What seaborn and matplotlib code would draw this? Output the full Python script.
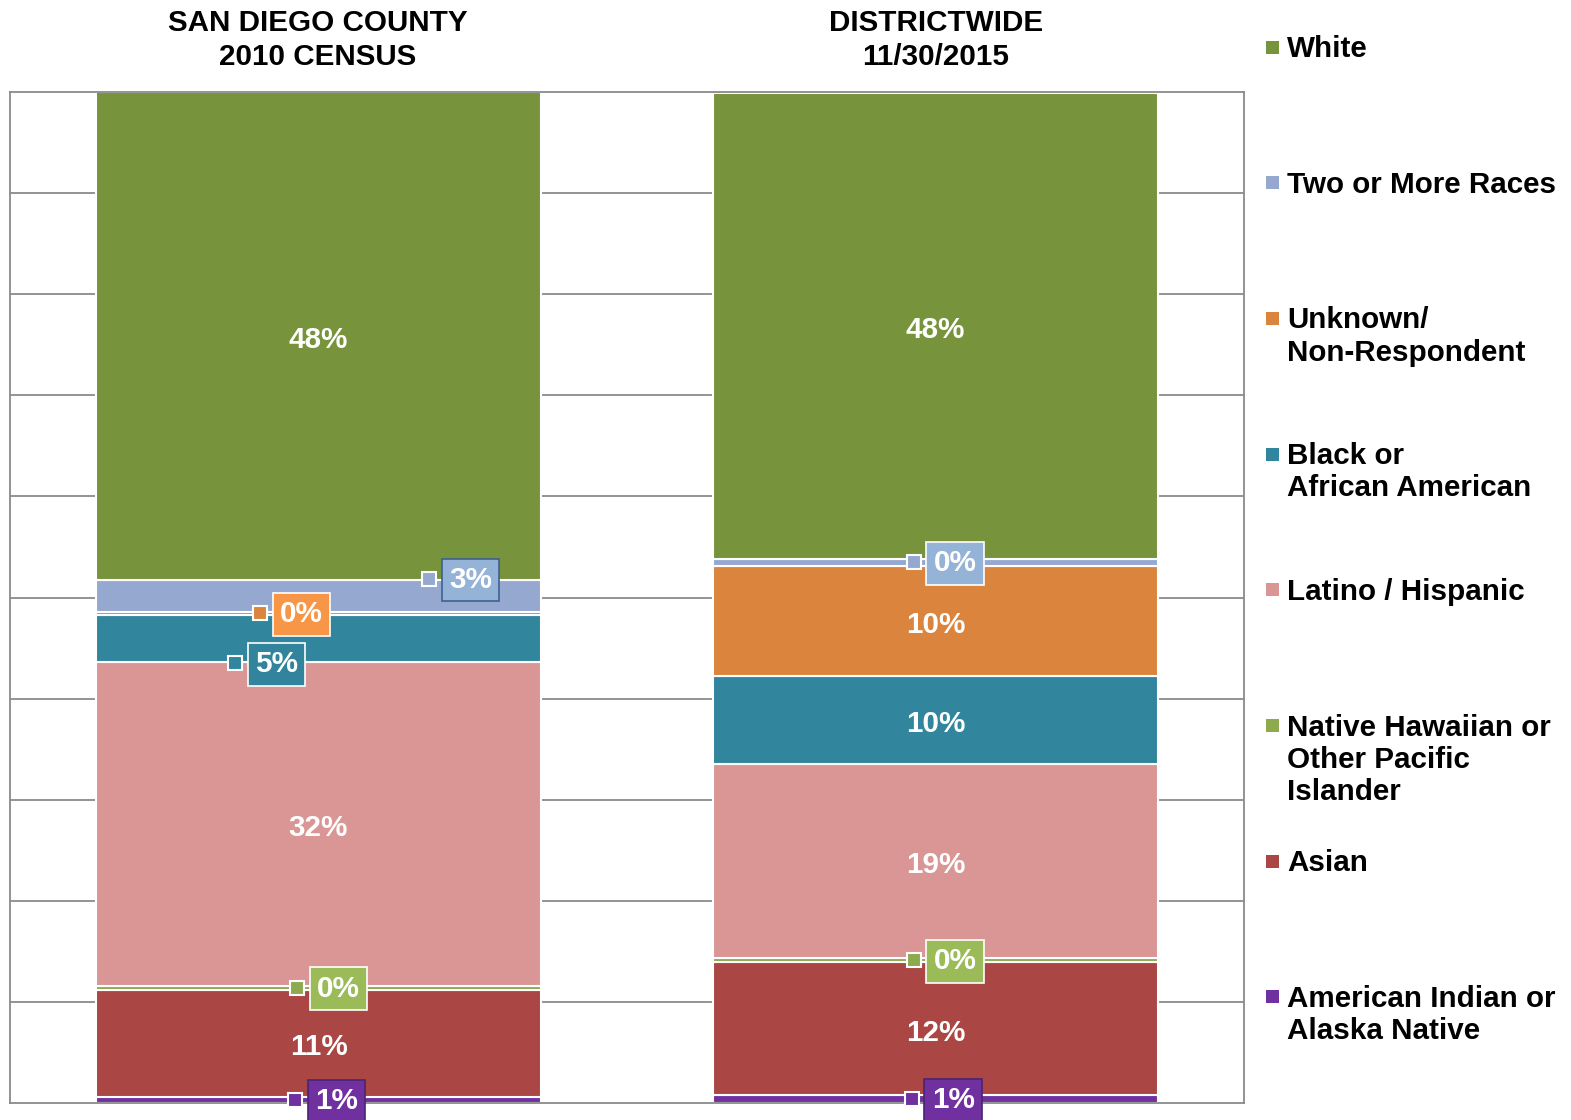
import matplotlib
matplotlib.use('Agg')
import matplotlib.pyplot as plt
import matplotlib.transforms as mtransforms
from matplotlib.patches import Rectangle
import seaborn as sns
import numpy as np

# Data (bottom -> top of each stacked bar)
groups = ['SAN DIEGO COUNTY\n2010 CENSUS', 'DISTRICTWIDE\n11/30/2015']
group_keys = ['county', 'district']
series = ['American Indian or\nAlaska Native', 'Asian',
          'Native Hawaiian or\nOther Pacific\nIslander', 'Latino / Hispanic',
          'Black or\nAfrican American', 'Unknown/\nNon-Respondent',
          'Two or More Races', 'White']
county_pct = [0.6, 10.6, 0.4, 32.0, 4.7, 0.3, 3.1, 48.3]
district_pct = [0.8, 13.1, 0.45, 19.2, 8.7, 10.9, 0.7, 46.1]
county_labels = ['1%', '11%', '0%', '32%', '5%', '0%', '3%', '48%']
district_labels = ['1%', '12%', '0%', '19%', '10%', '10%', '0%', '48%']

colors = ['#7030A0', '#AA4644', '#8DAA4F', '#D99694', '#31859C', '#DB843D', '#95A9D0', '#77933C']
box_colors = ['#7030A0', '#AA4644', '#9BBB59', '#D99694', '#31849B', '#F79646', '#95B3D7', '#77933C']

# small segments get a callout box: (group, series, dx px, dy px down, box edge)
callouts = [
    (0, 6, 110, -17, '#3F5F93'),
    (0, 5, -59, 0, 'white'),
    (0, 4, -84, 25, 'white'),
    (0, 2, -22, 0, 'white'),
    (0, 0, -24, 0, '#4A2570'),
    (1, 6, -22, 0, 'white'),
    (1, 2, -22, 0, 'white'),
    (1, 0, -24, 0, '#4A2570'),
]

sns.set_style('white')
plt.rcParams['font.family'] = ['Liberation Sans', 'DejaVu Sans']
plt.rcParams['font.weight'] = 'bold'
FS = 21.3

W, H = 1571, 1120
fig = plt.figure(figsize=(W / 100, H / 100), dpi=100)
ax = fig.add_axes([10 / W, 17 / H, 1234 / W, 1011 / H])

values = np.array([county_pct, district_pct])  # shape (2, n_series)
labels = [county_labels, district_labels]
bottom = np.zeros(2)
bottoms = []
for i, name in enumerate(series):
    sns.barplot(x=group_keys, y=values[:, i], bottom=bottom.copy(), color=colors[i],
                saturation=1, width=0.72, edgecolor='white', linewidth=1.5,
                errorbar=None, ax=ax, zorder=2)
    bottoms.append(bottom.copy())
    bottom += values[:, i]

ax.set_xlim(-0.5, 1.5)
ax.set_ylim(0, 100)
ax.set_yticks(np.arange(10, 100, 10))
ax.set_xticks([])
ax.set_yticklabels([])
ax.tick_params(length=0)
ax.set_xlabel('')
ax.set_ylabel('')
ax.grid(axis='y', color='#8A8A8A', linewidth=1.3)
ax.set_axisbelow(True)
for s in ax.spines.values():
    s.set_color('#8A8A8A')
    s.set_linewidth(1.3)
    s.set_visible(True)

# labels inside big segments
callout_keys = {(g, i) for g, i, *_ in callouts}
inner_tr = mtransforms.offset_copy(ax.transData, fig=fig, x=0, y=-4, units='dots')
for g in range(2):
    for i in range(len(series)):
        if (g, i) in callout_keys:
            continue
        yc = bottoms[i][g] + values[g, i] / 2
        ax.text(g, yc, labels[g][i], ha='center', va='center', color='white',
                fontsize=FS, fontweight='bold', transform=inner_tr, zorder=5)

# callout markers + boxes
pad = 0.25
pad_px = pad * FS * 100 / 72
for g, i, dx, dy, edge in callouts:
    yc = bottoms[i][g] + values[g, i] / 2
    mtr = mtransforms.offset_copy(ax.transData, fig=fig, x=dx, y=-dy, units='dots')
    ax.plot([g], [yc], marker='s', markersize=10, markerfacecolor=colors[i],
            markeredgecolor='white', markeredgewidth=1.5, transform=mtr,
            zorder=6, clip_on=False)
    ttr = mtransforms.offset_copy(ax.transData, fig=fig, x=dx + 13 + pad_px, y=-dy - 1, units='dots')
    ax.text(g, yc, labels[g][i], ha='left', va='center', color='white',
            fontsize=FS, fontweight='bold', transform=ttr, zorder=7, clip_on=False,
            bbox=dict(boxstyle=f'square,pad={pad}', facecolor=box_colors[i],
                      edgecolor=edge, linewidth=1.2))

# column titles
for x_px, title in zip([318, 936], groups):
    fig.text(x_px / W, 1 - 40 / H, title, ha='center', va='center', fontsize=FS,
             fontweight='bold', color='black', linespacing=1.25)

# legend (top -> bottom order)
for k, i in enumerate(range(len(series) - 1, -1, -1)):
    y_px = 47 + k * 135.7
    fig.add_artist(Rectangle((1266 / W, 1 - (y_px + 6.5) / H), 13 / W, 13 / H,
                             transform=fig.transFigure, facecolor=colors[i],
                             edgecolor='none'))
    fig.text(1287 / W, 1 - (y_px - 12) / H, series[i], ha='left', va='top',
             fontsize=FS, fontweight='bold', color='black', linespacing=1.2)

fig.savefig('out.png', dpi=100)
